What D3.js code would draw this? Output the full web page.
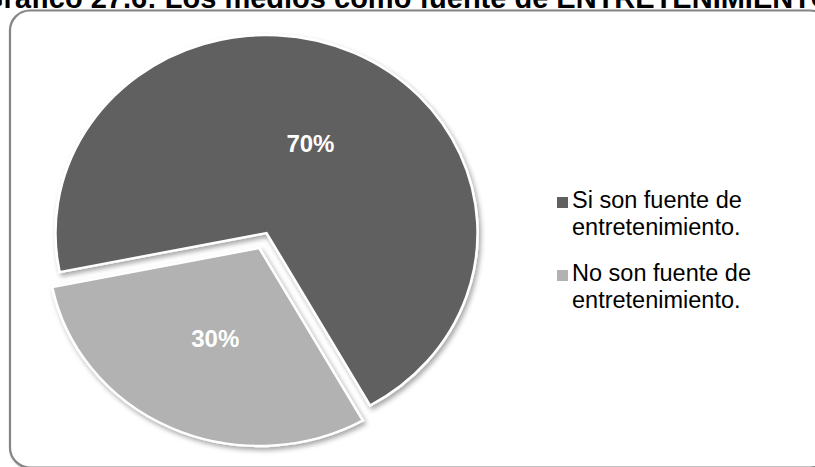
<!DOCTYPE html>
<html>
<head>
<meta charset="utf-8">
<script src="https://cdn.jsdelivr.net/npm/d3@7/dist/d3.min.js"></script>
<style>
  html, body { margin: 0; padding: 0; background: #fff; overflow: hidden; }
  text { font-family: "Liberation Sans", Arial, sans-serif; }
</style>
</head>
<body>
<svg id="chart" width="815" height="467"></svg>
<script>
// Chart data
const categories = ["Si son fuente de entretenimiento.", "No son fuente de entretenimiento."];
const legendLines = [["Si son fuente de", "entretenimiento."], ["No son fuente de", "entretenimiento."]];
const values = [70, 30];
const valueLabels = ["70%", "30%"];
const sliceColors = ["#606060", "#b2b2b2"];
const explodedSlices = [0, 1];
const titleText = "Gráfico 27.6: Los medios como fuente de ENTRETENIMIENTO";

const svg = d3.select("#chart");

// Filters for the soft slice and frame shadows
const defs = svg.append("defs");
const sh = defs.append("filter").attr("id", "sliceShadow")
  .attr("x", "-20%").attr("y", "-20%").attr("width", "140%").attr("height", "140%");
sh.append("feDropShadow").attr("dx", 2).attr("dy", 3).attr("stdDeviation", 2.5)
  .attr("flood-color", "#000").attr("flood-opacity", 0.35);
const fsh = defs.append("filter").attr("id", "frameShadow")
  .attr("x", "-5%").attr("y", "-5%").attr("width", "110%").attr("height", "110%");
fsh.append("feDropShadow").attr("dx", 1).attr("dy", 1).attr("stdDeviation", 1.2)
  .attr("flood-color", "#000").attr("flood-opacity", 0.3);

// Title (runs past the top edge of the page)
svg.append("text")
  .attr("x", 407).attr("y", 7.5)
  .attr("text-anchor", "middle")
  .attr("font-size", 29).attr("font-weight", "bold")
  .attr("fill", "#000")
  .text(titleText);

// Chart frame (extends past the right and bottom edges)
svg.append("rect")
  .attr("x", 10).attr("y", 10.5)
  .attr("width", 820).attr("height", 457)
  .attr("rx", 20).attr("ry", 20)
  .attr("fill", "#fff")
  .attr("stroke", "#858585").attr("stroke-width", 2.2)
  .attr("filter", "url(#frameShadow)");

// Pie
const cx = 266.5, cy = 233;
const radius = 198;
const xStretch = 1.066;
const startDeg = 258.6;
const explodeDist = 16.5;

const pie = d3.pie()
  .sort(null)
  .value(d => d)
  .startAngle(startDeg * Math.PI / 180)
  .endAngle(startDeg * Math.PI / 180 + 2 * Math.PI);
const arcs = pie(values);

const arc = d3.arc().innerRadius(0).outerRadius(radius);

const pieG = svg.append("g")
  .attr("transform", `translate(${cx},${cy}) scale(${xStretch},1)`);

function offset(d, i) {
  if (explodedSlices[i] === 0) return [0, 0];
  const m = (d.startAngle + d.endAngle) / 2;
  return [explodeDist * explodedSlices[i] * Math.sin(m), -explodeDist * explodedSlices[i] * Math.cos(m)];
}

pieG.selectAll("path.slice")
  .data(arcs)
  .join("path")
  .attr("class", "slice")
  .attr("transform", (d, i) => { const o = offset(d, i); return `translate(${o[0]},${o[1]})`; })
  .attr("d", arc)
  .attr("fill", (d, i) => sliceColors[i])
  .attr("stroke", "#fff")
  .attr("stroke-width", 2.4)
  .attr("stroke-linejoin", "miter")
  .attr("filter", "url(#sliceShadow)");

// Value labels at each slice centroid
svg.selectAll("text.val")
  .data(arcs)
  .join("text")
  .attr("class", "val")
  .attr("x", (d, i) => cx + (arc.centroid(d)[0] + offset(d, i)[0]) * xStretch)
  .attr("y", (d, i) => cy + arc.centroid(d)[1] + offset(d, i)[1])
  .attr("dy", "0.36em")
  .attr("text-anchor", "middle")
  .attr("font-size", 24).attr("font-weight", "bold")
  .attr("fill", "#fff")
  .text((d, i) => valueLabels[i]);

// Legend
const legendX = 557, legendY0 = 197, legendStep = 73, lineH = 27;
const items = svg.append("g").selectAll("g.item")
  .data(categories)
  .join("g")
  .attr("class", "item")
  .attr("transform", (d, i) => `translate(${legendX},${legendY0 + i * legendStep})`);
items.append("rect")
  .attr("x", 0).attr("y", 0).attr("width", 11).attr("height", 11)
  .attr("fill", (d, i) => sliceColors[i]);
items.each(function (d, i) {
  const t = d3.select(this).append("text")
    .attr("x", 15).attr("y", 11)
    .attr("font-size", 23.5)
    .attr("fill", "#000");
  legendLines[i].forEach((ln, k) => {
    t.append("tspan").attr("x", 15).attr("dy", k === 0 ? 0 : lineH).text(ln);
  });
});
</script>
</body>
</html>
